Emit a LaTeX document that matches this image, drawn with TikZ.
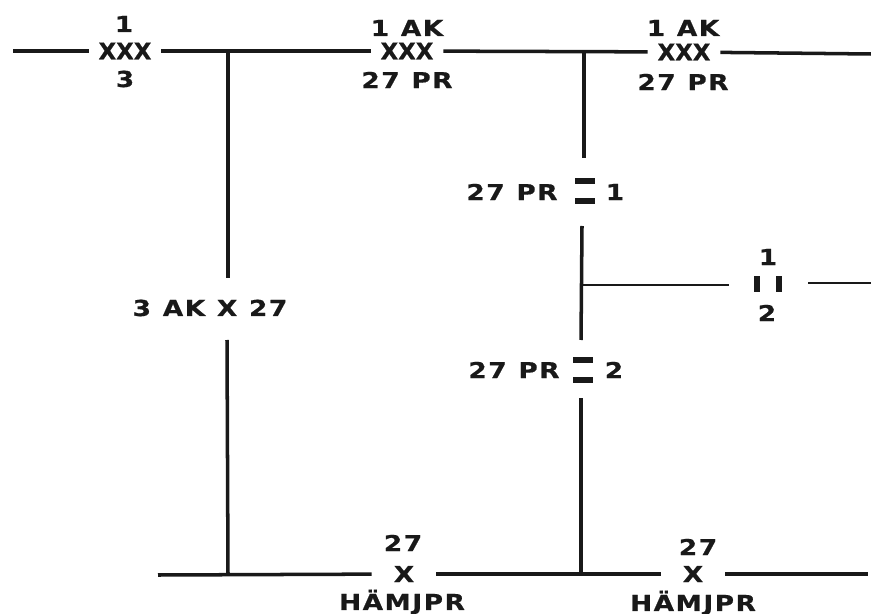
\documentclass[tikz,border=0pt]{standalone}
\usepackage{fontspec}
\setmainfont{DejaVu Sans}[BoldFont=DejaVu Sans Bold]
\newfontfamily\labfont{DejaVu Sans Bold}[FakeStretch=1.2,FakeBold=0.7,LetterSpace=7,WordSpace=1.1]
\newfontfamily\xfont{DejaVu Sans Bold}[FakeBold=0.7]
\tikzset{
  wire/.style={line width=2pt,black!90},
  lab/.style={font=\labfont\fontsize{12.5}{14}\selectfont,inner sep=0pt,black!90},
  tra/.style={font=\xfont\fontsize{13}{14}\selectfont,inner xsep=5.5pt,inner ysep=0pt,black!90},
  sin/.style={font=\labfont\fontsize{12.5}{14}\selectfont,inner xsep=12.5pt,inner ysep=0pt,black!90},
  hbar/.style={fill=black!90,inner sep=0pt,minimum width=11.5pt,minimum height=3pt},
  vbar/.style={fill=black!90,inner sep=0pt,minimum width=3pt,minimum height=9pt}
}
\begin{document}
\begin{tikzpicture}[x=0.02cm,y=-0.02cm]
	\useasboundingbox (0,0) rectangle (871,614);
	%TOP LINE
	\coordinate (L1) at (13,51);
	\coordinate (R1) at (871,54);
	\coordinate (J1) at (228,51);
	\coordinate (J2) at (584,51);
	\node[tra] (T1) at (125,51) {XXX};
	\node[tra] (T2) at (407,51) {XXX};
	\node[tra] (T3) at (684,52) {XXX};
	\node[lab] (T1a) at (124,24) {1};
	\node[lab] (T1b) at (125,79) {3};
	\node[lab] (T2a) at (407,28) {1 AK};
	\node[lab] (T2b) at (407,80) {27 PR};
	\node[lab] (T3a) at (683,28) {1 AK};
	\node[lab] (T3b) at (683,82) {27 PR};
	\draw[wire] (L1) -- (T1);
	\draw[wire] (T1) -- (T2);
	\draw[wire] (T2) -- (T3);
	\draw[wire] (T3) -- (R1);
	%BOTTOM LINE
	\coordinate (L2) at (158,575);
	\coordinate (R2) at (868,574);
	\coordinate (J3) at (228,575);
	\coordinate (J4) at (581,573);
	\node[sin] (B1) at (404,574) {X};
	\node[sin] (B2) at (693,574) {X};
	\node[lab] (B1a) at (403,543) {27};
	\node[lab] (B1b) at (402,602) {HÄMJPR};
	\node[lab] (B2a) at (698,547) {27};
	\node[lab] (B2b) at (693,603) {HÄMJPR};
	\draw[wire] (L2) -- (B1);
	\draw[wire] (B1) -- (B2);
	\draw[wire] (B2) -- (R2);
	%LEFT BRANCH
	\node[lab] (V1) at (210,308) {3 AK X 27};
	\coordinate (V1a) at (228,278);
	\coordinate (V1b) at (227,340);
	\draw[wire] (J1) -- (V1a);
	\draw[wire] (V1b) -- (J3);
	%RIGHT BRANCH
	\coordinate (V2a) at (584,158);
	\coordinate (V2b) at (582,226);
	\coordinate (V2c) at (581,340);
	\coordinate (V2d) at (581,398);
	\coordinate (J5) at (582,285);
	\draw[wire] (J2) -- (V2a);
	\draw[wire] (V2b) -- (V2c);
	\draw[wire] (V2d) -- (J4);
	%CONTACTS
	\node[hbar] (C1a) at (585,181) {};
	\node[hbar] (C1b) at (585,201) {};
	\node[hbar] (C2a) at (583,360) {};
	\node[hbar] (C2b) at (583,380) {};
	\node[lab] (C1l) at (512,192) {27 PR};
	\node[lab] (C1r) at (615,192) {1};
	\node[lab] (C2l) at (514,370) {27 PR};
	\node[lab] (C2r) at (614,370) {2};
	%SIDE BRANCH
	\node[vbar] (S1a) at (757,284) {};
	\node[vbar] (S1b) at (779,284) {};
	\node[lab] (S1t) at (768,257) {1};
	\node[lab] (S1d) at (767,313) {2};
	\coordinate (S1l) at (729,285);
	\coordinate (S1r) at (808,283);
	\coordinate (S1e) at (871,283);
	\draw[wire,line width=1.5pt] (J5) -- (S1l);
	\draw[wire,line width=1.5pt] (S1r) -- (S1e);
\end{tikzpicture}
\end{document}
